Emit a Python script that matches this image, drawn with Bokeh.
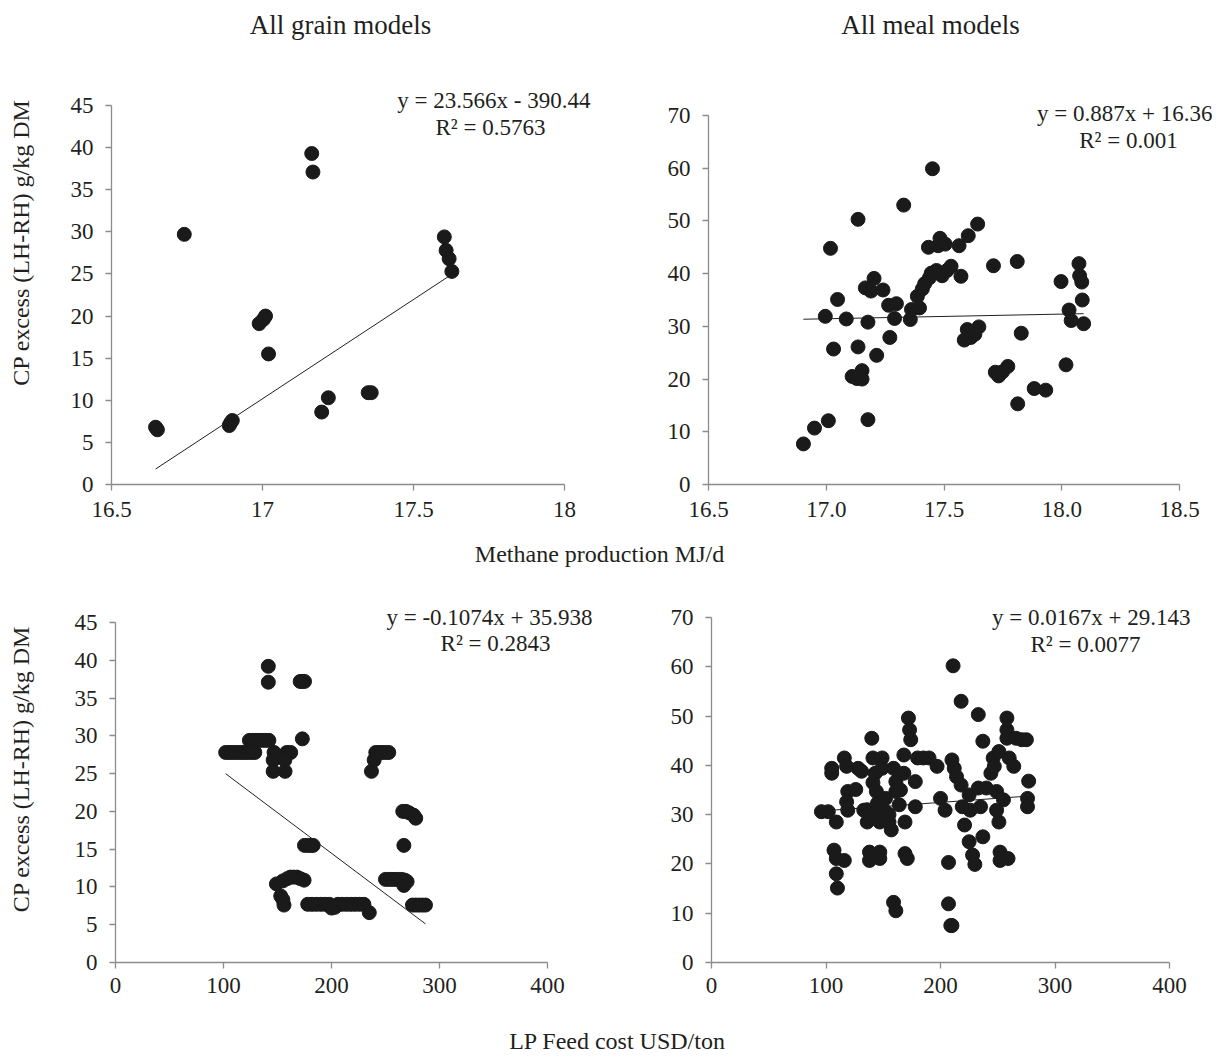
from bokeh.plotting import figure
from bokeh.layouts import column, row
from bokeh.models import Range1d, FixedTicker, Label
from bokeh.core.properties import value
from bokeh.embed import file_html
from bokeh.resources import INLINE

FONT = "Liberation Serif"
INK = "#231f20"
AXIS = "#8c8c8c"
DOT = "#1a1a1a"

# ---------------- data ----------------
# All grain models: methane (MJ/d) vs CP excess
grain_ch4 = [16.646, 16.652, 16.741, 16.89, 16.894, 16.9, 16.989, 17.003, 17.01, 17.02,
             17.163, 17.167, 17.196, 17.218, 17.35, 17.36, 17.602, 17.608, 17.618, 17.627]
grain_cp_a = [6.8, 6.5, 29.7, 7.0, 7.3, 7.6, 19.1, 19.6, 20.0, 15.5,
              39.3, 37.1, 8.6, 10.3, 10.9, 10.9, 29.4, 27.8, 26.8, 25.3]

# All meal models: methane (MJ/d) vs CP excess
meal_ch4 = [16.903, 16.95, 17.009, 16.996, 17.018, 17.031, 17.048, 17.085, 17.11, 17.13,
            17.135, 17.135, 17.152, 17.152, 17.166, 17.177, 17.177, 17.19, 17.203, 17.214,
            17.241, 17.265, 17.27, 17.29, 17.298, 17.329, 17.357, 17.362, 17.387, 17.396,
            17.408, 17.418, 17.434, 17.438, 17.446, 17.451, 17.468, 17.475, 17.483, 17.492,
            17.505, 17.513, 17.53, 17.564, 17.572, 17.586, 17.599, 17.603, 17.614, 17.631,
            17.643, 17.648, 17.71, 17.718, 17.732, 17.749, 17.771, 17.811, 17.813, 17.828,
            17.883, 17.932, 17.997, 18.018, 18.031, 18.04, 18.073, 18.076, 18.085, 18.087,
            18.093]
meal_cp_a = [7.7, 10.7, 12.1, 31.9, 44.8, 25.7, 35.1, 31.4, 20.5, 20.1,
             50.3, 26.1, 21.6, 20.0, 37.3, 30.8, 12.3, 36.7, 39.1, 24.5,
             36.9, 34.0, 27.9, 31.5, 34.3, 53.0, 31.3, 33.2, 35.7, 33.5,
             37.1, 38.1, 45.0, 39.2, 40.1, 59.9, 40.6, 45.3, 46.7, 39.6,
             45.6, 40.6, 41.4, 45.3, 39.5, 27.4, 29.4, 47.2, 27.9, 28.5,
             49.4, 29.9, 41.5, 21.3, 20.6, 21.4, 22.4, 42.3, 15.3, 28.7,
             18.2, 17.9, 38.5, 22.7, 33.1, 31.1, 41.9, 39.6, 38.4, 35.0,
             30.5]

# All grain models: LP feed cost (USD/ton) vs CP excess
grain_cost = [102, 105, 108, 111, 114, 117, 120, 123, 126, 129,
              124, 127, 130, 133, 136, 139, 142,
              141.5, 141.5, 171, 173, 175, 173,
              146.8, 146, 146, 158.6, 162.2, 156.8, 157,
              175, 178, 181, 183,
              149, 155, 159, 162, 165, 168, 171, 174.6,
              153, 155, 156,
              178, 182, 186, 190, 194, 198, 200, 203, 206, 210, 214, 218, 222, 226, 230, 235,
              237, 239.5, 241, 244, 247, 250, 253,
              266, 269, 272, 276, 278, 267,
              250, 253, 256, 259, 262, 265, 268, 270, 267,
              275, 278, 281, 284, 287]
grain_cp_b = [27.8, 27.8, 27.8, 27.8, 27.8, 27.8, 27.8, 27.8, 27.8, 27.8,
              29.4, 29.4, 29.4, 29.4, 29.4, 29.4, 29.4,
              39.2, 37.1, 37.2, 37.2, 37.2, 29.6,
              27.8, 26.8, 25.3, 27.8, 27.8, 26.8, 25.3,
              15.5, 15.5, 15.5, 15.5,
              10.4, 10.8, 11.1, 11.3, 11.3, 11.3, 11.1, 10.9,
              8.8, 8.3, 7.6,
              7.7, 7.7, 7.7, 7.7, 7.7, 7.7, 7.2, 7.3, 7.7, 7.7, 7.7, 7.7, 7.7, 7.7, 7.7, 6.6,
              25.3, 26.8, 27.8, 27.8, 27.8, 27.8, 27.8,
              20.0, 20.0, 19.8, 19.5, 19.1, 15.5,
              11.0, 11.0, 11.0, 11.0, 11.0, 11.0, 10.9, 10.7, 10.2,
              7.6, 7.6, 7.6, 7.6, 7.6]

# All meal models: LP feed cost (USD/ton) vs CP excess
meal_cost = [96, 102, 105, 105, 109, 107, 109, 116, 109, 110,
             116, 118, 119, 118, 119, 126, 128, 131, 133, 136,
             138, 138, 140, 141, 143, 144, 145, 145, 147, 147,
             147, 149, 149, 152, 152, 155, 157, 159, 161, 161,
             159, 161, 164, 168, 168, 169, 169, 171, 172, 173,
             174, 178, 178, 180, 185, 190, 197, 200, 204, 207,
             207, 209, 210, 211, 210, 212, 214, 218, 218, 219,
             221, 225, 226, 228, 230, 233, 233, 235, 237, 237,
             240, 244, 246, 247, 249, 251, 252, 252, 249, 251,
             258, 258, 258, 260, 259, 264, 266, 271, 275, 277,
             276, 276, 136, 141, 143, 150, 155, 165, 225, 255]
meal_cp_b = [30.6, 30.6, 39.4, 38.4, 28.5, 22.8, 21.1, 20.7, 18.0, 15.1,
             41.5, 39.8, 34.7, 32.6, 30.9, 35.1, 39.4, 38.8, 30.9, 28.5,
             22.4, 20.7, 45.5, 41.5, 38.4, 34.7, 32.3, 30.3, 28.5, 22.4,
             21.1, 41.5, 39.4, 33.3, 30.6, 28.5, 26.9, 39.4, 36.7, 34.7,
             12.2, 10.5, 32.0, 42.1, 38.4, 28.5, 22.1, 21.1, 49.6, 47.2,
             45.2, 36.7, 31.6, 41.5, 41.5, 41.5, 39.8, 33.3, 30.9, 20.3,
             11.9, 7.5, 7.5, 60.2, 41.1, 39.4, 37.7, 53.0, 36.0, 31.6,
             27.9, 24.5, 30.9, 21.8, 19.9, 50.3, 35.4, 31.6, 25.5, 44.9,
             35.4, 38.4, 41.5, 39.8, 30.9, 28.5, 22.4, 20.7, 34.7, 42.8,
             49.6, 47.2, 45.5, 41.5, 21.1, 39.8, 45.5, 45.2, 45.2, 36.8,
             33.3, 31.6, 31.0, 36.5, 29.5, 33.0, 30.0, 35.0, 34.0, 33.0]

# trendline coefficients (slope, intercept) and R² as shown
trend_slope = [23.566, 0.887, -0.1074, 0.0167]
trend_icept = [-390.44, 16.36, 35.938, 29.143]
eq_texts = ["y = 23.566x - 390.44", "y = 0.887x + 16.36",
            "y = -0.1074x + 35.938", "y = 0.0167x + 29.143"]
r2_texts = ["R\u00b2 = 0.5763", "R\u00b2 = 0.001", "R\u00b2 = 0.2843", "R\u00b2 = 0.0077"]

panel_titles = ["All grain models", "All meal models"]
y_title = "CP excess (LH-RH) g/kg DM"
x_title_top = "Methane production MJ/d"
x_title_bottom = "LP Feed cost USD/ton"

tl_xticks = [16.5, 17, 17.5, 18]
tl_xlabels = ["16.5", "17", "17.5", "18"]
tr_xticks = [16.5, 17.0, 17.5, 18.0, 18.5]
tr_xlabels = ["16.5", "17.0", "17.5", "18.0", "18.5"]
cost_xticks = [0, 100, 200, 300, 400]
cost_xlabels = ["0", "100", "200", "300", "400"]
grain_yticks = [0, 5, 10, 15, 20, 25, 30, 35, 40, 45]
meal_yticks = [0, 10, 20, 30, 40, 50, 60, 70]


def panel(xs, ys, xb, yb, xticks, xlabels, yticks, w, h, left, bottom,
          ppx, ppy, k, eq_pos, r2_pos, ylabel=None, lab_standoff=30,
          xlab_standoff=11, title=None, title_pos=None):
    """xb/yb: axis bounds; ppx/ppy: pixels per data unit.
    The frame fills the canvas to the top/right so that texts are not clipped."""
    fw = w - left
    fh = h - bottom
    x0 = xb[0]
    x1 = xb[0] + fw / ppx
    y0 = yb[0]
    y1 = y0 + fh / ppy
    p = figure(width=w, height=h, x_range=Range1d(x0, x1), y_range=Range1d(y0, y1),
               toolbar_location=None, output_backend="svg",
               min_border_left=left, min_border_right=0,
               min_border_top=0, min_border_bottom=bottom)
    p.title.visible = False
    p.xgrid.visible = False
    p.ygrid.visible = False
    p.outline_line_color = None
    for ax in (p.xaxis[0], p.yaxis[0]):
        ax.axis_line_color = AXIS
        ax.axis_line_width = 1.3
        ax.major_tick_line_color = AXIS
        ax.major_tick_line_width = 1.3
        ax.minor_tick_line_color = None
        ax.major_tick_out = 6
        ax.major_tick_in = 0
        ax.major_label_text_font = FONT
        ax.major_label_text_font_size = "23px"
        ax.major_label_text_color = INK
    p.xaxis.ticker = FixedTicker(ticks=xticks)
    p.xaxis.major_label_overrides = {t: l for t, l in zip(xticks, xlabels)}
    p.xaxis.major_label_standoff = xlab_standoff
    p.xaxis.bounds = xb
    p.yaxis.ticker = FixedTicker(ticks=yticks)
    p.yaxis.major_label_standoff = 12
    p.yaxis.bounds = yb
    if ylabel:
        p.yaxis.axis_label = ylabel
        p.yaxis.axis_label_text_font = FONT
        p.yaxis.axis_label_text_font_style = "normal"
        p.yaxis.axis_label_text_font_size = "24px"
        p.yaxis.axis_label_text_color = INK
        p.yaxis.axis_label_standoff = lab_standoff

    xa, xz = min(xs), max(xs)
    p.line([xa, xz], [trend_slope[k] * xa + trend_icept[k], trend_slope[k] * xz + trend_icept[k]],
           line_color=INK, line_width=1)
    p.scatter(xs, ys, marker="circle", size=14, fill_color=DOT, line_color=DOT)

    p.add_layout(Label(x=eq_pos[0], y=eq_pos[1], text=eq_texts[k], text_font=FONT,
                       text_font_size="23px", text_color=INK, text_align="right",
                       text_baseline="middle"))
    p.add_layout(Label(x=r2_pos[0], y=r2_pos[1], text=r2_texts[k], text_font=FONT,
                       text_font_size="23px", text_color=INK, text_align="center",
                       text_baseline="middle"))
    if title:
        p.add_layout(Label(x=title_pos[0], y=title_pos[1], text=title, text_font=FONT,
                           text_font_size="27px", text_color=INK, text_align="center",
                           text_baseline="middle"))
    return p


# top row: canvas 0..535; shared frame bottom at 484
tl = panel(grain_ch4, grain_cp_a, (16.5, 18), (0, 45), tl_xticks, tl_xlabels, grain_yticks,
           608, 535, 111, 51, 302.0, 379 / 45, 0,
           (18.086, 45.6), (17.755, 42.39), ylabel=y_title, lab_standoff=34,
           title=panel_titles[0], title_pos=(17.258, 54.5))
tr = panel(meal_ch4, meal_cp_a, (16.5, 18.5), (0, 70), tr_xticks, tr_xlabels, meal_yticks,
           608, 535, 100, 51, 235.5, 369 / 70, 1,
           (18.64, 70.39), (18.283, 65.26),
           title=panel_titles[1], title_pos=(17.443, 87.08))
# bottom row: canvas 575..1005; shared frame bottom at 962
bl = panel(grain_cost, grain_cp_b, (0, 400), (0, 45), cost_xticks, cost_xlabels, grain_yticks,
           608, 430, 115, 43, 1.08, 340 / 45, 2,
           (441.7, 45.66), (351.9, 42.22), ylabel=y_title, lab_standoff=38,
           xlab_standoff=9)
br = panel(meal_cost, meal_cp_b, (0, 400), (0, 70), cost_xticks, cost_xlabels, meal_yticks,
           608, 430, 103, 43, 1.145, 345 / 70, 3,
           (418.3, 70.0), (326.6, 64.5), xlab_standoff=9)


def strip(h, text, tx, ty):
    s = figure(width=1216, height=h, x_range=Range1d(0, 1216), y_range=Range1d(0, h),
               toolbar_location=None, output_backend="svg", x_axis_type=None,
               y_axis_type=None, min_border=0)
    s.title.visible = False
    s.xgrid.visible = False
    s.ygrid.visible = False
    s.outline_line_color = None
    s.text(x=[tx], y=[ty], text=[text], text_font=value(FONT), text_font_size="24px",
           text_align="center", text_baseline="middle", text_color=INK)
    return s


s1 = strip(40, x_title_top, 599, 22)
s2 = strip(50, x_title_bottom, 617, 15)

layout = column(row(tl, tr), s1, row(bl, br), s2)
open("out.html", "w").write(file_html(layout, INLINE))
